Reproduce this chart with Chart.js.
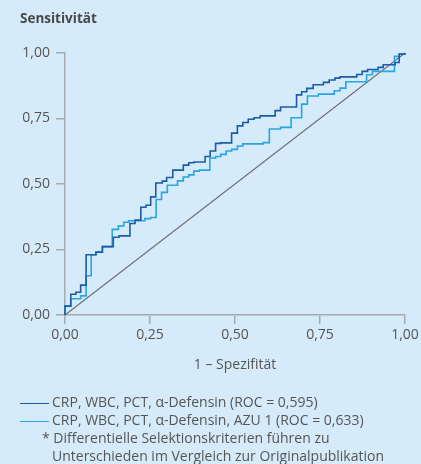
<!DOCTYPE html>
<html>
<head>
<meta charset="utf-8">
<script src="https://cdn.jsdelivr.net/npm/chart.js@4"></script>
<style>
  html, body { margin: 0; padding: 0; background: #d5ebf9; }
  #wrap { position: relative; width: 421px; height: 464px; overflow: hidden; font-family: "Open Sans", sans-serif; color: #555; }
  #chart { position: absolute; left: 0; top: 0; }
  .title { position: absolute; left: 20px; top: 9px; font-size: 13.5px; font-weight: bold; color: #484848; }
  .legend { position: absolute; left: 20px; font-size: 14px; line-height: 18px; white-space: nowrap; }
  .legend i { display: inline-block; width: 29px; height: 0; border-top: 1.5px solid; vertical-align: middle; margin-right: 3px; }
  .note { position: absolute; left: 42px; font-size: 14px; line-height: 18px; white-space: nowrap; }
</style>
</head>
<body>
<div id="wrap">
  <canvas id="chart" width="421" height="464"></canvas>
  <div class="title">Sensitivität</div>
  <div class="legend" style="top:393px"><i style="border-color:#1b5ca7"></i>CRP, WBC, PCT, α-Defensin (ROC = 0,595)</div>
  <div class="legend" style="top:411px"><i style="border-color:#28a5e2"></i>CRP, WBC, PCT, α-Defensin, AZU 1 (ROC = 0,633)</div>
  <div class="note" style="top:429px">* Differentielle Selektionskriterien führen zu<br><span style="padding-left:10px">Unterschieden im Vergleich zur Originalpublikation</span></div>
</div>
<script>
// ROC steps: x = 1 - Spezifität where the step rises, y = Sensitivität after the rise
const rocA_x = [0, 0, 0.017, 0.032, 0.046, 0.062, 0.091, 0.110, 0.142, 0.159, 0.191, 0.206, 0.223, 0.238, 0.252, 0.267, 0.286, 0.299, 0.317, 0.348, 0.364, 0.379, 0.412, 0.427, 0.443, 0.458, 0.490, 0.507, 0.523, 0.539, 0.556, 0.574, 0.618, 0.634, 0.681, 0.696, 0.711, 0.730, 0.760, 0.777, 0.794, 0.809, 0.858, 0.874, 0.890, 0.921, 0.936, 0.971, 0.983, 1.0];
const rocA_y = [0, 0.034, 0.079, 0.087, 0.114, 0.230, 0.240, 0.261, 0.297, 0.302, 0.349, 0.362, 0.411, 0.419, 0.451, 0.504, 0.511, 0.525, 0.553, 0.572, 0.581, 0.584, 0.605, 0.626, 0.655, 0.657, 0.694, 0.722, 0.735, 0.747, 0.753, 0.760, 0.780, 0.794, 0.840, 0.852, 0.865, 0.879, 0.888, 0.897, 0.904, 0.909, 0.918, 0.930, 0.937, 0.945, 0.955, 0.964, 0.996, 1.0];

const rocB_x = [0, 0, 0.017, 0.046, 0.062, 0.077, 0.091, 0.110, 0.139, 0.157, 0.173, 0.187, 0.235, 0.252, 0.268, 0.284, 0.301, 0.331, 0.348, 0.364, 0.379, 0.395, 0.426, 0.443, 0.458, 0.474, 0.490, 0.507, 0.523, 0.583, 0.601, 0.634, 0.665, 0.696, 0.713, 0.745, 0.792, 0.809, 0.826, 0.887, 0.904, 0.969, 0.983, 1.0];
const rocB_y = [0, 0.034, 0.062, 0.073, 0.150, 0.230, 0.240, 0.261, 0.327, 0.340, 0.354, 0.360, 0.368, 0.372, 0.441, 0.468, 0.495, 0.512, 0.527, 0.535, 0.549, 0.553, 0.599, 0.605, 0.613, 0.626, 0.632, 0.645, 0.653, 0.658, 0.710, 0.716, 0.753, 0.805, 0.836, 0.843, 0.856, 0.866, 0.890, 0.917, 0.930, 0.987, 0.996, 1.0];

const diag_x = [0, 1];
const diag_y = [0, 1];

const tickValues = [0, 0.25, 0.5, 0.75, 1];

function toPoints(xs, ys) {
  return xs.map(function (x, i) { return { x: x, y: ys[i] }; });
}

function fmt(v) {
  return v.toFixed(2).replace(".", ",");
}

const axisGrey = "#a6abb0";
const textGrey = "#555555";

new Chart(document.getElementById("chart"), {
  type: "line",
  data: {
    datasets: [
      {
        data: toPoints(rocA_x, rocA_y),
        borderColor: "#1b5ca7",
        borderWidth: 1.6,
        stepped: true,
        pointRadius: 0,
        clip: 4
      },
      {
        data: toPoints(rocB_x, rocB_y),
        borderColor: "#28a5e2",
        borderWidth: 1.6,
        stepped: true,
        pointRadius: 0,
        clip: 4
      },
      {
        data: toPoints(diag_x, diag_y),
        borderColor: "#6e6e6e",
        borderWidth: 1.1,
        pointRadius: 0,
        clip: 4
      }
    ]
  },
  options: {
    responsive: false,
    animation: false,
    layout: { padding: { left: 0, top: 53, right: 16, bottom: 87 } },
    plugins: { legend: { display: false }, tooltip: { enabled: false } },
    scales: {
      x: {
        type: "linear",
        min: 0,
        max: 1,
        afterBuildTicks: function (s) { s.ticks = tickValues.map(function (v) { return { value: v }; }); },
        afterFit: function (s) { s.height = 62; s.paddingLeft = 0; s.paddingRight = 0; },
        border: { color: axisGrey, width: 1.5 },
        grid: { drawOnChartArea: false, color: axisGrey, lineWidth: 1.5, tickLength: 9 },
        ticks: { color: textGrey, font: { family: "Open Sans", size: 14 }, padding: 3, maxRotation: 0, callback: fmt },
        title: { display: true, text: "1 – Spezifität", color: textGrey, font: { family: "Open Sans", size: 14 }, padding: { top: 4, bottom: 4 } }
      },
      y: {
        type: "linear",
        min: 0,
        max: 1,
        afterBuildTicks: function (s) { s.ticks = tickValues.map(function (v) { return { value: v }; }); },
        afterFit: function (s) { s.width = 65; s.paddingTop = 0; s.paddingBottom = 0; },
        border: { color: axisGrey, width: 1.5 },
        grid: { drawOnChartArea: false, color: axisGrey, lineWidth: 1.5, tickLength: 9 },
        ticks: { color: textGrey, font: { family: "Open Sans", size: 14 }, padding: 6, callback: fmt }
      }
    }
  }
});
</script>
</body>
</html>
